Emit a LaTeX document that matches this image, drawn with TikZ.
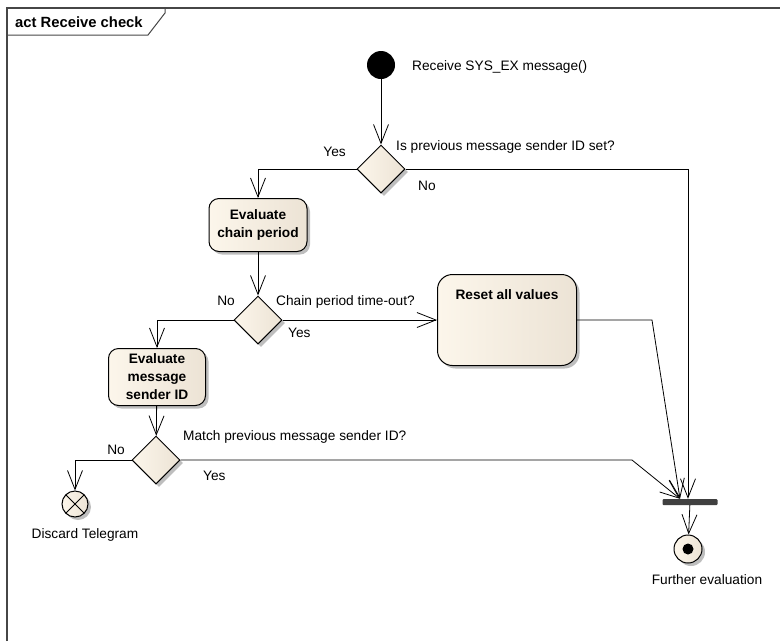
\documentclass[tikz,border=0pt]{standalone}
\usepackage{fontspec}
\setmainfont{Liberation Sans}
\usepackage{tikz}
\usetikzlibrary{arrows.meta,positioning,shapes.geometric,shadows}

\definecolor{actfillL}{RGB}{252,246,235}
\definecolor{actfillR}{RGB}{236,227,213}
\definecolor{shadowgray}{RGB}{190,190,190}
\definecolor{forkgray}{RGB}{64,64,64}
\definecolor{framegray}{RGB}{70,70,70}

\begin{document}
\begin{tikzpicture}[
    x = 1pt, y = -1pt, % pixel grid, y runs downwards
    > = {Straight Barb[length=19pt,width=15pt]}, % open arrow head
    flow/.style = {->, line width=0.8pt}, % connector style
    every node/.style = {font=\fontsize{13.7}{18}\selectfont}
    ]

    \tikzset{
    boldtext/.style = {font=\fontsize{13.7}{18}\selectfont\bfseries},
    shade/.style = {left color=actfillL, right color=actfillR,
        drop shadow={shadow xshift=3pt, shadow yshift=-3pt, fill=shadowgray, opacity=1}},
    action/.style = {draw, line width=1pt, rounded corners=10pt, shade,
        align=center, boldtext, inner sep=2pt},
    decision/.style = {diamond, draw, line width=1pt, shade,
        minimum width=48pt, minimum height=48pt, inner sep=0pt},
    initial/.style = {circle, fill=black, minimum size=28pt, inner sep=0pt},
    final/.style = {circle, draw, line width=1pt, shade, minimum size=28pt, inner sep=0pt,
        path picture={\fill (path picture bounding box.center) circle (5.5pt);}},
    flowfinal/.style = {circle, draw, line width=1pt, shade, minimum size=26pt, inner sep=0pt,
        path picture={\draw (path picture bounding box.north west) -- (path picture bounding box.south east)
            (path picture bounding box.north east) -- (path picture bounding box.south west);}},
    forkbar/.style = {rectangle, fill=forkgray, minimum width=55pt, minimum height=6pt,
        inner sep=0pt, rounded corners=1pt},
    lbl/.style = {inner sep=0pt}
    }

    \useasboundingbox (0,0) rectangle (780,641);

    % frame
    \draw[framegray, line width=1.4pt] (7,641) -- (7,8) -- (780,8);
    \draw[framegray, line width=1pt] (7,35) -- (148,35) -- (165,13) -- (165,8);
    \node[lbl, anchor=west, font=\fontsize{14.8}{18}\selectfont\bfseries] (title) at (15,22) {act Receive check};

    \node[initial] (start) at (381,65) {};
    \node[lbl, anchor=west] (startlbl) at (412,67) {Receive SYS\_EX message()};

    \node[decision] (d1) at (381,169) {};
    \node[lbl, anchor=west] (d1q) at (396,147) {Is previous message sender ID set?};
    \node[lbl, anchor=east] (d1yes) at (346,152) {Yes};
    \node[lbl, anchor=west] (d1no) at (418,186) {No};

    \node[action, minimum width=98pt, minimum height=53pt] (chain) at (258,225) {Evaluate\\chain period};

    \node[decision] (d2) at (258,320) {};
    \node[lbl, anchor=east] (d2no) at (235,301) {No};
    \node[lbl, anchor=west] (d2q) at (276,302) {Chain period time-out?};
    \node[lbl, anchor=west] (d2yes) at (288,333) {Yes};

    \node[action, rounded corners=15pt, minimum width=139pt, minimum height=91pt,
        label={[name=resetlbl, boldtext, anchor=north, yshift=-12pt]north:Reset all values}] (reset) at (507,320) {};

    \node[action, minimum width=97pt, minimum height=57pt] (msgid) at (157,377) {Evaluate\\message\\sender ID};

    \node[decision] (d3) at (156,460) {};
    \node[lbl, anchor=west] (d3q) at (183,437) {Match previous message sender ID?};
    \node[lbl, anchor=east] (d3no) at (125,450) {No};
    \node[lbl, anchor=west] (d3yes) at (203,476) {Yes};

    \node[flowfinal] (discard) at (75,504) {};
    \node[lbl] (discardlbl) at (85,535) {Discard Telegram};

    \node[forkbar] (fork) at (690,502) {};
    \node[final] (final) at (688,549) {};
    \node[lbl] (finallbl) at (707,580) {Further evaluation};

    \coordinate (bendR) at (652,320);
    \coordinate (bendY) at (632,460);

    \draw[flow] (start) -- (d1);
    \draw[flow] (d1.west) -| (chain.north);
    \draw[flow] (d1.east) -| ([xshift=-2pt]fork.north);
    \draw[flow] (chain) -- (d2);
    \draw[flow] (d2.east) -- (reset.west);
    \draw[flow] (d2.west) -| (msgid.north);
    \draw[flow] (reset.east) -- (bendR) -- ([xshift=-10pt]fork.north);
    \draw[flow] (msgid) -- (d3);
    \draw[flow] (d3.west) -| (discard.north);
    \draw[flow] (d3.east) -- (bendY) -- ([xshift=-10pt]fork.north);
    \draw[flow] (fork) -- (final);
\end{tikzpicture}
\end{document}
